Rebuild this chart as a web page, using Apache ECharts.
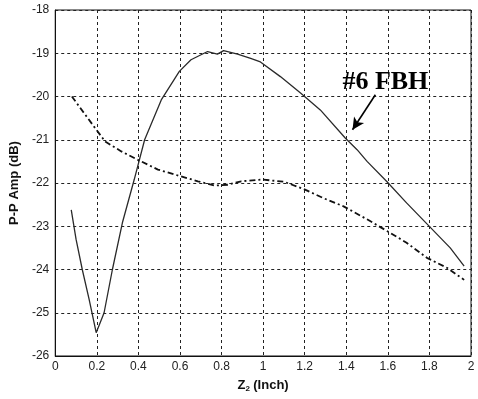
<!DOCTYPE html>
<html>
<head>
<meta charset="utf-8">
<script src="https://cdn.jsdelivr.net/npm/echarts@6/dist/echarts.min.js"></script>
<style>
  html, body { margin: 0; padding: 0; background: #fff; }
  #chart { width: 478px; height: 399px; }
</style>
</head>
<body>
<div id="chart"></div>
<script>
// Axis ticks
const xTicks = [0, 0.2, 0.4, 0.6, 0.8, 1, 1.2, 1.4, 1.6, 1.8, 2];
const yTicks = [-26, -25, -24, -23, -22, -21, -20, -19, -18];

// #6 FBH response: Z2 position (inch) vs peak-to-peak amplitude (dB)
const fbhZ = [0.077, 0.1, 0.13, 0.163, 0.197, 0.235, 0.275, 0.323, 0.38, 0.43, 0.51, 0.597, 0.653, 0.733, 0.78, 0.81, 0.877, 0.94, 0.987, 1.083, 1.18, 1.275, 1.395, 1.452, 1.5, 1.596, 1.69, 1.795, 1.9, 1.967];
const fbhAmp = [-22.62, -23.3, -24.0, -24.69, -25.46, -25.0, -24.0, -22.92, -21.92, -21.0, -20.08, -19.42, -19.15, -18.96, -19.02, -18.94, -19.02, -19.12, -19.2, -19.54, -19.92, -20.31, -20.96, -21.23, -21.5, -21.97, -22.46, -22.98, -23.5, -23.92];

// Second (dash-dot) trace
const refZ = [0.08, 0.19, 0.24, 0.318, 0.4, 0.494, 0.6, 0.686, 0.767, 0.83, 0.895, 0.995, 1.1, 1.195, 1.29, 1.387, 1.5, 1.596, 1.69, 1.788, 1.884, 1.967];
const refAmp = [-20.0, -20.72, -21.04, -21.27, -21.47, -21.69, -21.84, -21.96, -22.06, -22.04, -21.96, -21.92, -21.97, -22.14, -22.35, -22.54, -22.84, -23.11, -23.38, -23.73, -23.96, -24.24];

// Callout text and arrow, in data coordinates
const calloutText = '#6 FBH';
const calloutAt = [1.588, -19.66];
const arrowFrom = [1.54, -19.96];
const arrowTo = [1.43, -20.77];

const pairs = (xs, ys) => xs.map((x, i) => [x, ys[i]]);

const gridLine = { show: true, lineStyle: { color: '#222', type: [3, 3], width: 1 } };
const labelStyle = { color: '#222', fontFamily: 'Liberation Sans, Arial, sans-serif', fontSize: 12 };

const chart = echarts.init(document.getElementById('chart'), null, { renderer: 'canvas' });
chart.setOption({
  animation: false,
  backgroundColor: '#fff',
  grid: {
    left: 54, right: 7, top: 10, bottom: 43,
    show: true, borderColor: '#111', borderWidth: 1, backgroundColor: 'transparent'
  },
  xAxis: {
    type: 'value',
    min: xTicks[0], max: xTicks[xTicks.length - 1], interval: 0.2,
    axisLine: { show: true, onZero: false, lineStyle: { color: '#111', width: 1 } },
    axisTick: { show: false },
    splitLine: gridLine,
    axisLabel: Object.assign({ margin: 5, formatter: v => String(+v.toFixed(1)) }, labelStyle),
    name: '{z|Z}{s|2} {n|(Inch)}',
    nameLocation: 'middle',
    nameGap: 21,
    nameTextStyle: {
      rich: {
        z: { fontFamily: 'Liberation Sans, Arial, sans-serif', fontWeight: 'bold', fontSize: 13, color: '#111' },
        s: { fontFamily: 'Liberation Sans, Arial, sans-serif', fontWeight: 'bold', fontSize: 8, color: '#111', verticalAlign: 'bottom', padding: [8, 0, 0, 0] },
        n: { fontFamily: 'Liberation Sans, Arial, sans-serif', fontWeight: 'bold', fontSize: 13, color: '#111' }
      }
    }
  },
  yAxis: {
    type: 'value',
    min: yTicks[0], max: yTicks[yTicks.length - 1], interval: 1,
    axisLine: { show: true, onZero: false, lineStyle: { color: '#111', width: 1 } },
    axisTick: { show: false },
    splitLine: gridLine,
    axisLabel: Object.assign({ margin: 6 }, labelStyle),
    name: 'P-P Amp (dB)',
    nameLocation: 'middle',
    nameGap: 25,
    nameTextStyle: { fontFamily: 'Liberation Sans, Arial, sans-serif', fontWeight: 'bold', fontSize: 13, color: '#111' }
  },
  series: [
    {
      type: 'line',
      data: pairs(fbhZ, fbhAmp),
      showSymbol: false,
      lineStyle: { color: '#2a2a2a', width: 1.3 },
      markLine: {
        silent: true,
        symbol: ['none', 'arrow'],
        symbolSize: [9, 12],
        lineStyle: { color: '#000', width: 1.6, type: 'solid' },
        label: { show: false },
        data: [[{ coord: arrowFrom }, { coord: arrowTo }]]
      },
      markPoint: {
        silent: true,
        symbol: 'circle', symbolSize: 0,
        label: {
          show: true, position: 'inside',
          formatter: calloutText,
          fontFamily: 'Liberation Serif, Times New Roman, serif',
          fontWeight: 'bold', fontSize: 26, color: '#000'
        },
        data: [{ coord: calloutAt }]
      }
    },
    {
      type: 'line',
      data: pairs(refZ, refAmp),
      showSymbol: false,
      lineStyle: { color: '#111', width: 1.8, type: [6, 3, 2, 3] }
    }
  ]
});
</script>
</body>
</html>
